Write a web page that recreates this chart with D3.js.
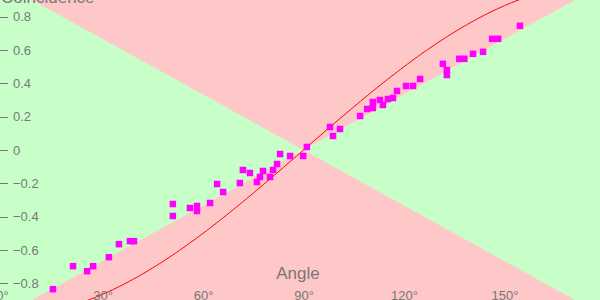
<!DOCTYPE html>
<html lang="en">
<head>
  <meta charset="utf-8">
  <script src="https://d3js.org/d3.v7.min.js" charset="utf-8"></script>
  <title>Coincidence vs Angle</title>
  <style>
    body { margin: 0; }
    .axis path, .axis line { fill: none; stroke: #777; shape-rendering: crispEdges; }
    .axis text { font-family: "Liberation Sans", Arial, sans-serif; font-size: 13px; fill: #777; }
    .title { font-family: "Liberation Sans", Arial, sans-serif; font-size: 17px; fill: #777; }
  </style>
</head>
<body>
<svg width="600" height="300" id="chart"></svg>
<script>

// measured points (angle in degrees, coincidence)
var angles = [15.2, 21.2, 25.4, 27.2, 31.9, 34.9, 38.2, 39.4, 51.0, 51.0,
              56.1, 58.2, 58.2, 62.1, 64.2, 66.0, 71.0, 71.9, 74.0, 76.1,
              77.0, 77.9, 80.0, 80.9, 82.1, 83.0, 86.0, 89.9, 91.0, 97.9,
              98.8, 100.9, 106.9, 109.0, 110.7, 110.7, 112.8, 113.7, 115.2, 116.7,
              117.9, 120.6, 122.7, 124.8, 131.6, 132.8, 132.8, 136.5, 138.0, 140.6,
              143.6, 146.3, 148.1, 154.6];
var coincidences = [-0.835, -0.697, -0.727, -0.697, -0.643, -0.565, -0.547, -0.547, -0.324, -0.396,
                    -0.348, -0.336, -0.366, -0.318, -0.204, -0.252, -0.198, -0.120, -0.138, -0.192,
                    -0.162, -0.126, -0.162, -0.120, -0.084, -0.024, -0.036, -0.036, 0.018, 0.138,
                    0.084, 0.126, 0.204, 0.246, 0.252, 0.288, 0.300, 0.270, 0.306, 0.312,
                    0.354, 0.384, 0.384, 0.426, 0.517, 0.480, 0.450, 0.547, 0.547, 0.577,
                    0.589, 0.667, 0.667, 0.745];

var xTicks = [0, 30, 60, 90, 120, 150];
var yTicks = [-0.8, -0.6, -0.4, -0.2, 0, 0.2, 0.4, 0.6, 0.8];

var width = 600, height = 300;

var svg = d3.select("#chart");

var x = d3.scaleLinear().domain([-0.6, 178.5]).range([0, width]);
var y = d3.scaleLinear().domain([-0.9, 0.9]).range([height, 0]);

// background: green everywhere, red wedges above and below the X
svg.append("rect")
    .attr("width", width).attr("height", height)
    .attr("fill", "#c8ffc8");

var wedges = [
  [[90, 0], [-90, 2], [270, 2]],
  [[90, 0], [-90, -2], [270, -2]]
];
svg.selectAll(".wedge")
  .data(wedges)
  .enter().append("path")
    .attr("class", "wedge")
    .attr("fill", "#ffc8c8")
    .attr("d", d3.line().x(function(d) { return x(d[0]); }).y(function(d) { return y(d[1]); }).curve(d3.curveLinearClosed));

// quantum prediction -cos(angle)
var curveAngles = d3.range(0, 181, 1);
svg.append("path")
    .datum(curveAngles)
    .attr("fill", "none")
    .attr("stroke", "#ff0000")
    .attr("stroke-width", 1)
    .attr("d", d3.line()
      .x(function(a) { return x(a); })
      .y(function(a) { return y(-Math.cos(a * Math.PI / 180)); }));

// points
var sq = 6.5;
svg.selectAll(".pt")
  .data(angles)
  .enter().append("rect")
    .attr("class", "pt")
    .attr("x", function(a) { return x(a) - sq / 2; })
    .attr("y", function(a, i) { return y(coincidences[i]) - sq / 2; })
    .attr("width", sq).attr("height", sq)
    .attr("fill", "#ff00ff");

// axes
var yAxis = svg.append("g")
    .attr("class", "axis")
    .call(d3.axisRight(y).tickValues(yTicks).tickSize(8).tickPadding(5)
      .tickFormat(function(d) { return d === 0 ? "0" : d3.format(".1f")(d); }));
yAxis.select(".domain").remove();

var xAxis = svg.append("g")
    .attr("class", "axis")
    .attr("transform", "translate(0," + 291 + ")")
    .call(d3.axisBottom(x).tickValues(xTicks).tickSize(0).tickPadding(0)
      .tickFormat(function(d) { return d + "\u00b0"; }));
xAxis.select(".domain").remove();

svg.append("text")
    .attr("class", "title")
    .attr("x", 298).attr("y", 279)
    .attr("text-anchor", "middle")
    .text("Angle");

svg.append("text")
    .attr("class", "title")
    .attr("x", 1).attr("y", 3)
    .text("Coincidence");

</script>
</body>
</html>
